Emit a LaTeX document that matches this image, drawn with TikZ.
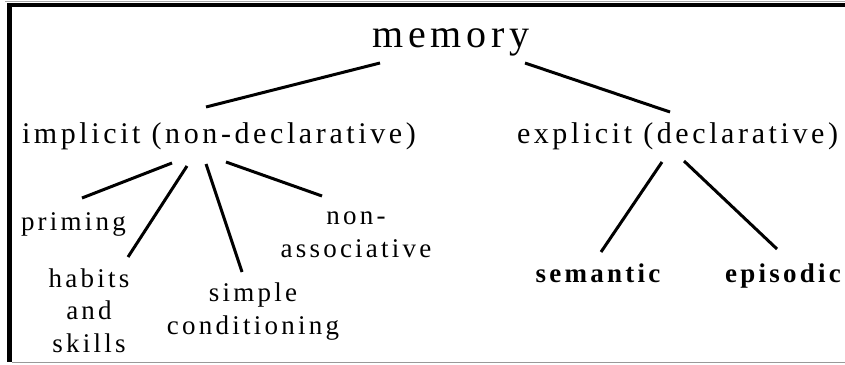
\documentclass[tikz,border=0pt]{standalone}
\usepackage{fontspec}
\setmainfont{Liberation Serif}[LetterSpace=12]
\usetikzlibrary{calc}
\tikzset{
  lbl/.style={inner sep=0pt, outer sep=0pt, text=black},
  big/.style={lbl, font=\fontsize{40}{48}\selectfont},
  mid/.style={lbl, font=\fontsize{30}{36}\selectfont},
  small/.style={lbl, font=\fontsize{27}{32.5}\selectfont, align=center},
  conn/.style={draw=black, line width=3pt, line cap=butt},
}
\begin{document}
\begin{tikzpicture}[x=1pt,y=-1pt]
\useasboundingbox (0,0) rectangle (845,364);
% frame
\draw[gray!70, line width=1pt] (5,1) -- (845,1);
\draw[black, line width=4pt] (7,5) -- (845,5);
\draw[black, line width=5pt] (9.5,3) -- (9.5,362);
\draw[gray!80, line width=1.5pt] (12,362.5) -- (845,362.5);
% nodes
\node[big, anchor=base] (memory) at (451,47) {memory};
\node[mid, anchor=base west] (implicit) at (22,143) {implicit (non-declarative)};
\node[mid, anchor=base west] (explicit) at (517,143) {explicit (declarative)};
\node[small, anchor=base west] (priming) at (21,230) {priming};
\node[small, anchor=base] (habits) at (89,352) {habits\\and\\skills};
\node[small, anchor=base] (simple) at (253,334) {simple\\conditioning};
\node[small, anchor=base] (nonassoc) at (356,257) {non-\\associative};
\node[small, anchor=base, font=\fontsize{27}{32.5}\selectfont\bfseries] (semantic) at (598,282) {semantic};
\node[small, anchor=base, font=\fontsize{27}{32.5}\selectfont\bfseries] (episodic) at (783,282) {episodic};
% connectors
\draw[conn] ($(memory.base)+(-71,16)$) -- ($(implicit.base west)+(184,-36)$);
\draw[conn] ($(memory.base)+(74,16)$) -- ($(explicit.base west)+(153,-31)$);
\draw[conn] ($(implicit.base west)+(150,20)$) -- ($(priming.base west)+(61,-32)$);
\draw[conn] ($(implicit.base west)+(165,23)$) -- ($(habits.base)+(39,-95)$);
\draw[conn] ($(implicit.base west)+(184,21)$) -- ($(simple.base)+(-11,-62)$);
\draw[conn] ($(implicit.base west)+(204,19)$) -- ($(nonassoc.base)+(-34,-61)$);
\draw[conn] ($(explicit.base west)+(145,19)$) -- ($(semantic.base)+(3,-30)$);
\draw[conn] ($(explicit.base west)+(167,18)$) -- ($(episodic.base)+(-6,-33)$);
\end{tikzpicture}
\end{document}
